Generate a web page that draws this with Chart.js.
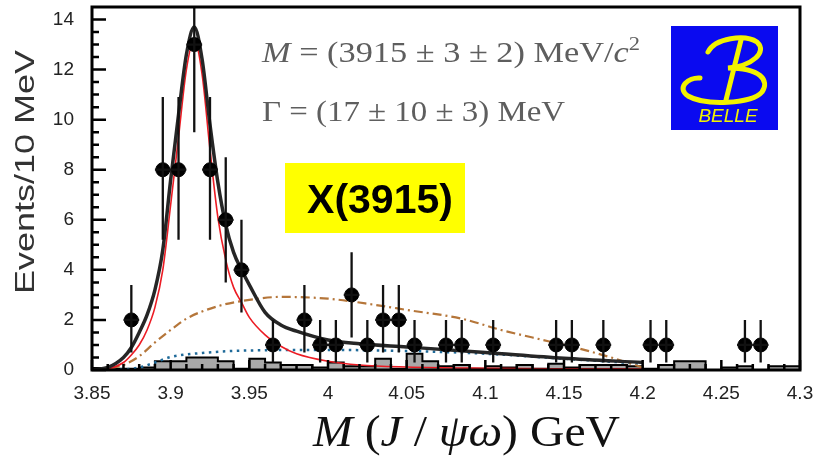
<!DOCTYPE html>
<html>
<head>
<meta charset="utf-8">
<script src="https://cdn.jsdelivr.net/npm/chart.js@4.4.1/dist/chart.umd.min.js"></script>
<style>
  html, body { margin: 0; padding: 0; background: #fff; }
  #wrap { width: 815px; height: 458px; position: relative; }
</style>
</head>
<body>
<div id="wrap"><canvas id="myChart" width="815" height="458"></canvas></div>
<script>
// data points (bin centres, events per 10 MeV) with asymmetric errors
const massX = [3.875, 3.895, 3.905, 3.915, 3.925, 3.935, 3.945, 3.965, 3.985, 3.995, 4.005, 4.015, 4.025,
               4.035, 4.045, 4.055, 4.075, 4.085, 4.105, 4.145, 4.155, 4.175, 4.205, 4.215, 4.265, 4.275];
const events = [2, 8, 8, 13, 8, 6, 4, 1, 2, 1, 1, 3, 1, 2, 2, 1, 1, 1, 1, 1, 1, 1, 1, 1, 1, 1];
const errLow  = [0.7, 5.2, 5.2, 9.5, 5.2, 3.5, 2.3, 0.3, 0.7, 0.3, 0.3, 1.3, 0.3, 0.7, 0.7, 0.3, 0.3, 0.3, 0.3, 0.3, 0.3, 0.3, 0.3, 0.3, 0.3, 0.3];
const errHigh = [3.4, 10.9, 10.9, 14.6, 10.9, 8.5, 6.0, 2.0, 3.4, 2.0, 2.0, 4.7, 2.0, 3.4, 3.4, 2.0, 2.0, 2.0, 2.0, 2.0, 2.0, 2.0, 2.0, 2.0, 2.0, 2.0];

// sideband histogram, 10 MeV bins from 3.85 to 4.30
const histStart = 3.85;
const histWidth = 0.01;
const histVals = [0.02, 0.08, 0.05, 0.05, 0.1, 0.35, 0.35, 0.5, 0.5, 0.35, 0.05, 0.45, 0.3, 0.2, 0.2,
                  0.1, 0.3, 0.15, 0.15, 0.45, 0.05, 0.65, 0.35, 0.15, 0.2, 0.05, 0.15, 0.1, 0.2, 0.05,
                  0.25, 0.1, 0.2, 0.2, 0.2, 0.15, 0.05, 0.2, 0.35, 0.35, 0.0, 0.1, 0.15, 0.0, 0.15];

// fit curves
const fitX = [3.85, 3.86, 3.87, 3.875, 3.88, 3.885, 3.89, 3.895, 3.90, 3.905, 3.91, 3.915, 3.92, 3.925,
              3.93, 3.935, 3.94, 3.945, 3.95, 3.96, 3.97, 3.98, 4.0, 4.02, 4.05, 4.1, 4.15, 4.2];
const totalY = [0, 0.1, 0.5, 0.9, 1.5, 2.2, 3.2, 4.8, 7.6, 10.2, 12.6, 13.7, 12.4, 9.8,
                7.5, 5.8, 4.7, 4.0, 3.4, 2.3, 1.8, 1.55, 1.2, 1.05, 0.92, 0.7, 0.47, 0.3];
const signalY = [0, 0.05, 0.3, 0.6, 1.0, 1.6, 2.5, 4.0, 6.6, 9.3, 12.0, 13.2, 11.8, 8.8,
                 6.1, 4.4, 3.3, 2.7, 2.1, 1.4, 0.95, 0.65, 0.35, 0.2, 0.12, 0.07, 0.05, 0.04];
const bkgX = [3.85, 3.86, 3.87, 3.88, 3.89, 3.90, 3.91, 3.93, 3.95, 3.97, 4.0, 4.03, 4.05, 4.085, 4.11, 4.14, 4.16, 4.18, 4.2];
const bkgY = [0, 0.05, 0.2, 0.55, 1.1, 1.6, 2.05, 2.55, 2.8, 2.92, 2.85, 2.6, 2.4, 2.05, 1.6, 1.15, 0.85, 0.5, 0.1];
const nonresX = [3.85, 3.87, 3.88, 3.89, 3.90, 3.92, 3.95, 4.0, 4.05, 4.1, 4.15, 4.2];
const nonresY = [0, 0.02, 0.1, 0.3, 0.52, 0.68, 0.78, 0.8, 0.76, 0.65, 0.45, 0.25];

const xTicks = [3.85, 3.9, 3.95, 4, 4.05, 4.1, 4.15, 4.2, 4.25, 4.3];
const yTicks = [0, 2, 4, 6, 8, 10, 12, 14];

const zip = (xs, ys) => xs.map((x, i) => ({ x: x, y: ys[i] }));

const histPts = histVals.map((v, i) => ({ x: histStart + i * histWidth, y: v }));
histPts.push({ x: histStart + histVals.length * histWidth, y: histVals[histVals.length - 1] });

// draws a run of text pieces with different fonts, squeezed to a target width
function drawSegments(ctx, segs, x, y, targetW) {
    let total = 0;
    segs.forEach(s => { ctx.font = s.f; total += ctx.measureText(s.t).width; });
    const sx = targetW ? targetW / total : 1;
    ctx.save();
    ctx.translate(x, y);
    ctx.scale(sx, 1);
    let cx = 0;
    segs.forEach(s => {
        ctx.font = s.f;
        ctx.fillText(s.t, cx, s.dy || 0);
        cx += ctx.measureText(s.t).width;
    });
    ctx.restore();
}

const decor = {
    id: 'decor',
    afterDatasetsDraw(chart) {
        const ctx = chart.ctx;
        const xs = chart.scales.x, ys = chart.scales.y;
        const ca = chart.chartArea;

        // error bars
        ctx.save();
        ctx.beginPath();
        ctx.rect(ca.left, ca.top, ca.right - ca.left, ca.bottom - ca.top);
        ctx.clip();
        ctx.strokeStyle = '#111';
        ctx.lineWidth = 2.3;
        massX.forEach((m, i) => {
            const px = xs.getPixelForValue(m);
            ctx.beginPath();
            ctx.moveTo(px, ys.getPixelForValue(errLow[i]));
            ctx.lineTo(px, ys.getPixelForValue(errHigh[i]));
            const py = ys.getPixelForValue(events[i]);
            ctx.moveTo(xs.getPixelForValue(m - 0.005), py);
            ctx.lineTo(xs.getPixelForValue(m + 0.005), py);
            ctx.stroke();
        });
        ctx.restore();

        // frame and inner ticks
        ctx.save();
        ctx.strokeStyle = '#000';
        ctx.lineWidth = 3;
        ctx.strokeRect(ca.left, ca.top, ca.right - ca.left, ca.bottom - ca.top);
        ctx.lineWidth = 2.5;
        ctx.beginPath();
        for (let v = 0; v <= 14.001; v += 0.5) {
            const py = ys.getPixelForValue(v);
            const len = (Math.abs(v % 2) < 0.01) ? 14 : 7;
            ctx.moveTo(ca.left, py);
            ctx.lineTo(ca.left + len, py);
        }
        for (let k = 0; k <= 45; k++) {
            const px = xs.getPixelForValue(3.85 + k * 0.01);
            const len = (k % 5 === 0) ? 10 : 6;
            ctx.moveTo(px, ca.bottom);
            ctx.lineTo(px, ca.bottom - len);
        }
        ctx.stroke();
        ctx.restore();
    },
    afterDraw(chart) {
        const ctx = chart.ctx;
        ctx.save();
        ctx.textBaseline = 'alphabetic';
        ctx.textAlign = 'left';

        // fit results
        ctx.fillStyle = '#5e5e5e';
        drawSegments(ctx, [
            { t: 'M', f: 'italic 29px "Liberation Serif"' },
            { t: ' = (3915 ± 3 ± 2) MeV/', f: '29px "Liberation Serif"' },
            { t: 'c', f: 'italic 29px "Liberation Serif"' },
            { t: '2', f: '19px "Liberation Serif"', dy: -12 }
        ], 262, 62, 378);
        drawSegments(ctx, [
            { t: 'Γ = (17 ± 10 ± 3) MeV', f: '29px "Liberation Serif"' }
        ], 262, 121, 303);

        // X(3915) label
        ctx.fillStyle = '#ffff00';
        ctx.fillRect(285, 163, 180, 70);
        ctx.fillStyle = '#000';
        ctx.font = 'bold 41px "Liberation Sans"';
        ctx.textAlign = 'center';
        ctx.fillText('X(3915)', 380, 213);

        // Belle logo
        ctx.fillStyle = '#0a0af0';
        ctx.fillRect(671, 26, 107, 104);
        ctx.strokeStyle = '#f2f200';
        ctx.lineWidth = 5;
        ctx.lineCap = 'round';
        ctx.beginPath();
        ctx.moveTo(708, 52);
        ctx.bezierCurveTo(715, 38, 745, 34, 757, 42);
        ctx.bezierCurveTo(768, 52, 752, 66, 728, 68);
        ctx.bezierCurveTo(760, 68, 770, 80, 762, 92);
        ctx.bezierCurveTo(752, 104, 705, 106, 688, 96);
        ctx.bezierCurveTo(676, 88, 688, 77, 700, 78);
        ctx.stroke();
        ctx.beginPath();
        ctx.moveTo(741, 40);
        ctx.lineTo(726, 100);
        ctx.stroke();
        ctx.fillStyle = '#f2f200';
        ctx.font = 'italic 19px "Liberation Sans"';
        ctx.fillText('BELLE', 728, 122);

        // y axis title, stretched along the axis like the original
        ctx.fillStyle = '#333';
        ctx.save();
        ctx.translate(34, 172);
        ctx.rotate(-Math.PI / 2);
        ctx.font = '28px "Liberation Sans"';
        const tw = ctx.measureText('Events/10 MeV').width;
        ctx.scale(244 / tw, 1);
        ctx.textAlign = 'center';
        ctx.fillText('Events/10 MeV', 0, 0);
        ctx.restore();

        ctx.fillStyle = '#111';
        ctx.textAlign = 'left';
        drawSegments(ctx, [
            { t: 'M', f: 'italic 44px "Liberation Serif"' },
            { t: ' (', f: '44px "Liberation Serif"' },
            { t: 'J', f: 'italic 44px "Liberation Serif"' },
            { t: ' / ', f: '44px "Liberation Serif"' },
            { t: 'ψω', f: 'italic 44px "Liberation Serif"' },
            { t: ') GeV', f: '44px "Liberation Serif"' }
        ], 313, 446, 307);
        ctx.restore();
    }
};

const curveStyle = { showLine: true, pointRadius: 0, fill: false, cubicInterpolationMode: 'monotone' };

new Chart(document.getElementById('myChart').getContext('2d'), {
    type: 'scatter',
    data: {
        datasets: [
            {
                label: 'data',
                data: zip(massX, events),
                pointRadius: 7,
                pointBackgroundColor: '#000',
                pointBorderColor: '#000',
                order: 0
            },
            Object.assign({
                label: 'total fit',
                data: zip(fitX, totalY),
                borderColor: '#262626',
                borderWidth: 3.5,
                order: 1
            }, curveStyle),
            Object.assign({
                label: 'X(3915)',
                data: zip(fitX, signalY),
                borderColor: '#ec1c24',
                borderWidth: 1.6,
                order: 2
            }, curveStyle),
            Object.assign({
                label: 'background',
                data: zip(bkgX, bkgY),
                borderColor: '#b5763a',
                borderWidth: 2.2,
                borderDash: [9, 4, 2, 4],
                order: 3
            }, curveStyle),
            Object.assign({
                label: 'non-resonant',
                data: zip(nonresX, nonresY),
                borderColor: '#1f6a99',
                borderWidth: 2.5,
                borderDash: [2.5, 4.5],
                order: 4
            }, curveStyle),
            {
                label: 'sideband',
                data: histPts,
                showLine: true,
                stepped: 'after',
                pointRadius: 0,
                borderColor: '#000',
                borderWidth: 2,
                backgroundColor: '#a9a9a9',
                fill: 'origin',
                order: 5
            }
        ]
    },
    options: {
        responsive: false,
        animation: false,
        layout: { autoPadding: false, padding: { left: 0, right: 15, top: 7, bottom: 0 } },
        plugins: { legend: { display: false }, tooltip: { enabled: false } },
        scales: {
            x: {
                type: 'linear',
                min: 3.85,
                max: 4.3,
                afterFit: s => {
                    s.height = 88;
                    s.paddingLeft = 0; s.paddingRight = 0;
                },
                afterBuildTicks: s => { s.ticks = xTicks.map(v => ({ value: v })); },
                grid: { display: false, drawTicks: false },
                border: { display: false },
                ticks: {
                    padding: 12,
                    color: '#222',
                    font: { family: 'Liberation Sans', size: 19 },
                    callback: v => String(Math.round(v * 100) / 100)
                }
            },
            y: {
                min: 0,
                max: 14.5,
                afterFit: s => {
                    s.width = 92;
                    s.paddingTop = 0; s.paddingBottom = 0;
                },
                afterBuildTicks: s => { s.ticks = yTicks.map(v => ({ value: v })); },
                grid: { display: false, drawTicks: false },
                border: { display: false },
                ticks: {
                    padding: 18,
                    color: '#222',
                    font: { family: 'Liberation Sans', size: 19 }
                }
            }
        }
    },
    plugins: [decor]
});
</script>
</body>
</html>
